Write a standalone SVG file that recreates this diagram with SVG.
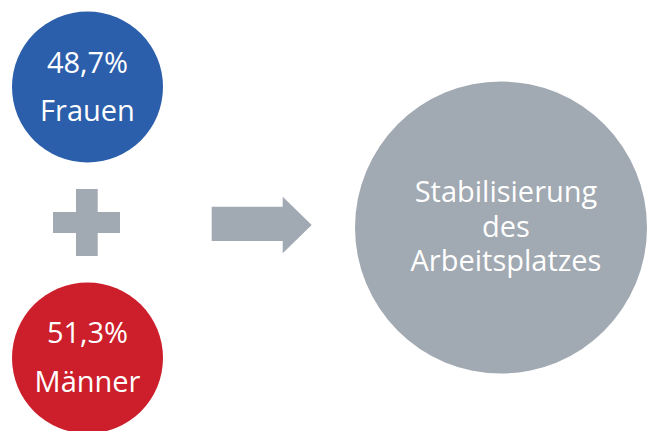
<svg xmlns="http://www.w3.org/2000/svg" width="649" height="431" viewBox="0 0 649 431">
<style>
.t{font-family:"Open Sans","Noto Sans","Liberation Sans",sans-serif;font-size:29px;fill:#ffffff;text-anchor:middle}
.g{fill:#a1a9b2}
</style>
<rect width="649" height="431" fill="#ffffff"/>
<g id="frauen">
<circle cx="87.5" cy="87" r="75.5" fill="#2b5eab"/>
<text class="t" x="87.5" y="73">48,7%</text>
<text class="t" x="87.5" y="121">Frauen</text>
</g>
<g id="maenner">
<circle cx="87.5" cy="358" r="75.5" fill="#cc1f2b"/>
<text class="t" x="87.5" y="343">51,3%</text>
<text class="t" x="87.5" y="392">Männer</text>
</g>
<g id="plus">
<path class="g" d="M76,189H97.7V212H120V233H97.7V256H76V233H53V212H76Z"/>
</g>
<g id="connectors">
<path class="g" d="M211.7,206.7H282.7V196.7L311.7,225L282.7,253.3V241H211.7Z"/>
</g>
<g id="ergebnis">
<circle cx="501" cy="227.5" r="146" class="g"/>
<text class="t" x="506" y="202">Stabilisierung</text>
<text class="t" x="506" y="237">des</text>
<text class="t" x="506" y="271">Arbeitsplatzes</text>
</g>
</svg>
